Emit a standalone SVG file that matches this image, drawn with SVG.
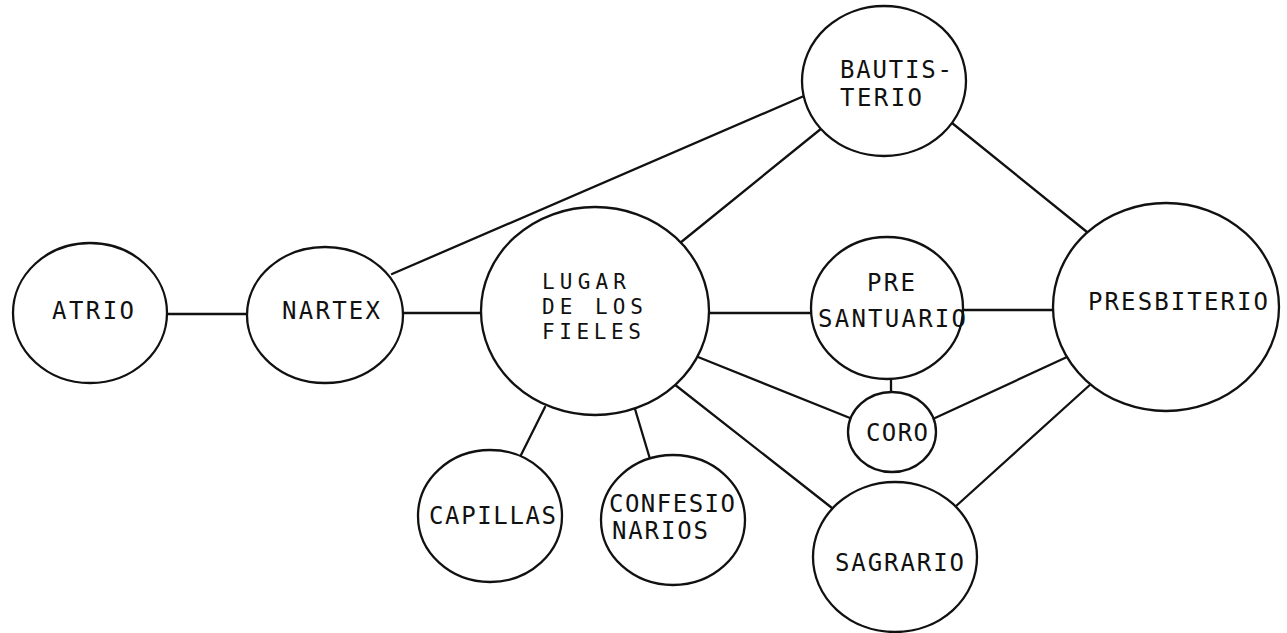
<svg xmlns="http://www.w3.org/2000/svg" width="1287" height="633" viewBox="0 0 1287 633">
<style>
.n{fill:#fff;stroke:#111;stroke-width:2.3}
.c line{stroke:#111;stroke-width:2.3;stroke-linecap:round}
text{font-family:"DejaVu Sans Mono","Liberation Mono",monospace;font-size:24px;fill:#111}
.s{font-size:21px}
</style>
<rect width="1287" height="633" fill="#fff"/>
<g id="connectors" class="c">
<line x1="167" y1="314" x2="247" y2="314"/>
<line x1="402" y1="313" x2="482" y2="313"/>
<line x1="392" y1="274" x2="804" y2="96"/>
<line x1="680" y1="243" x2="822" y2="128"/>
<line x1="952" y1="123" x2="1087" y2="232"/>
<line x1="709" y1="313" x2="811" y2="313"/>
<line x1="963" y1="310" x2="1054" y2="310"/>
<line x1="891" y1="378" x2="891" y2="393"/>
<line x1="698" y1="357" x2="850" y2="418"/>
<line x1="935" y1="418" x2="1067" y2="357"/>
<line x1="674" y1="384" x2="832" y2="508"/>
<line x1="1092" y1="383" x2="955" y2="507"/>
<line x1="545" y1="407" x2="520" y2="457"/>
<line x1="635" y1="409" x2="650" y2="459"/>
</g>
<g id="atrio"><ellipse class="n" cx="90" cy="313" rx="77" ry="70"/><text x="52" y="319" textLength="82" lengthAdjust="spacing">ATRIO</text></g>
<g id="nartex"><ellipse class="n" cx="325" cy="315" rx="78" ry="68"/><text x="282" y="319" textLength="98" lengthAdjust="spacing">NARTEX</text></g>
<g id="lugar"><ellipse class="n" cx="595" cy="311" rx="114" ry="104"/>
<text class="s" x="542" y="289" textLength="84" lengthAdjust="spacing">LUGAR</text>
<text class="s" x="542" y="314" textLength="101" lengthAdjust="spacing">DE LOS</text>
<text class="s" x="542" y="339" textLength="99" lengthAdjust="spacing">FIELES</text></g>
<g id="bautisterio"><ellipse class="n" cx="884" cy="81" rx="82" ry="75"/>
<text x="840" y="78" textLength="112" lengthAdjust="spacing">BAUTIS-</text>
<text x="840" y="106" textLength="82" lengthAdjust="spacing">TERIO</text></g>
<g id="presantuario"><ellipse class="n" cx="887" cy="308" rx="76" ry="71"/>
<text x="867" y="291" textLength="48" lengthAdjust="spacing">PRE</text>
<text x="818" y="327" textLength="148" lengthAdjust="spacing">SANTUARIO</text></g>
<g id="presbiterio"><ellipse class="n" cx="1166" cy="307" rx="113" ry="104"/>
<text x="1088" y="310" textLength="180" lengthAdjust="spacing">PRESBITERIO</text></g>
<g id="coro"><ellipse class="n" cx="892" cy="432" rx="44" ry="40"/>
<text x="866" y="441" textLength="62" lengthAdjust="spacing">CORO</text></g>
<g id="sagrario"><ellipse class="n" cx="895" cy="557" rx="82" ry="75"/>
<text x="835" y="571" textLength="129" lengthAdjust="spacing">SAGRARIO</text></g>
<g id="capillas"><ellipse class="n" cx="490" cy="516" rx="72" ry="66"/>
<text x="429" y="524" textLength="127" lengthAdjust="spacing">CAPILLAS</text></g>
<g id="confesionarios"><ellipse class="n" cx="673" cy="520" rx="72" ry="65"/>
<text x="609" y="512" textLength="126" lengthAdjust="spacing">CONFESIO</text>
<text x="612" y="539" textLength="96" lengthAdjust="spacing">NARIOS</text></g>
</svg>
